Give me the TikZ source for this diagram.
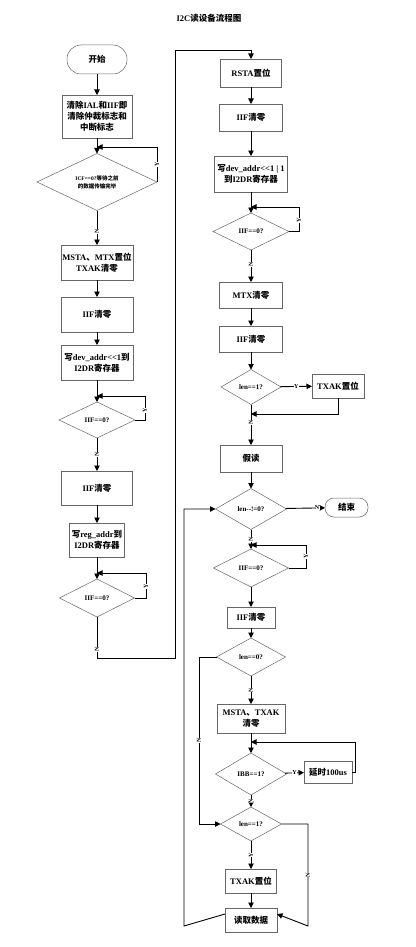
\documentclass[tikz,border=0pt]{standalone}
\usepackage{fontspec}
\setmainfont{Liberation Serif}
\newfontfamily\cjk{Noto Sans CJK SC}
\usetikzlibrary{shapes.geometric,arrows.meta}
\newcommand{\zh}[1]{{\cjk #1}}
\tikzset{
  box/.style={draw=black!60, line width=0.5pt, align=center, font=\fontsize{8.5}{11}\selectfont\bfseries, inner sep=1pt, outer sep=0pt},
  wh/.style 2 args={minimum width=#1, minimum height=#2},
  dia/.style={diamond, draw=black!60, line width=0.5pt, align=center, font=\fontsize{7}{8.5}\selectfont\bfseries, inner sep=0pt, aspect=2, outer sep=0pt},
  arr/.style={-{Triangle[length=5.5pt,width=5.5pt]}, line width=0.9pt},
  ln/.style={line width=0.9pt},
  lbl/.style={font=\fontsize{6}{6}\selectfont\bfseries, fill=white, inner sep=0.3pt},
}
\begin{document}
\begin{tikzpicture}[x=1pt,y=-1pt]
\useasboundingbox (0,0) rectangle (415,947);
\node[font=\fontsize{8.5}{10}\selectfont\bfseries] (title) at (209,18) {I2C\zh{读设备流程图}};
% left column
\node[box, wh={60pt}{29pt}, rounded corners=14pt] (start) at (97,59.5) {\zh{开始}};
\node[box, wh={70pt}{43pt}] (b1) at (97,116.5) {\zh{清除}IAL\zh{和}IIF\zh{即}\\\zh{清除仲裁标志和}\\\zh{中断标志}};
\node[dia, wh={120pt}{57pt}, font=\fontsize{5.5}{8}\selectfont\bfseries] (d1) at (97,182) {ICF==0?\zh{等待之前}\\\zh{的数据传输完毕}};
\node[box, wh={72pt}{35pt}] (b2) at (97,262.5) {MSTA\zh{、}MTX\zh{置位}\\TXAK\zh{清零}};
\node[box, wh={72pt}{35pt}] (b3) at (97,314.5) {IIF\zh{清零}};
\node[box, wh={72pt}{35pt}] (b4) at (97,362.5) {\zh{写}dev\_addr<{}<1\zh{到}\\I2DR\zh{寄存器}};
\node[dia, wh={76pt}{36pt}] (d2) at (97,420) {IIF==0?};
\node[box, wh={71pt}{34pt}] (b5) at (97,488) {IIF\zh{清零}};
\node[box, wh={55pt}{34pt}] (b6) at (97,540) {\zh{写}reg\_addr\zh{到}\\I2DR\zh{寄存器}};
\node[dia, wh={75pt}{38pt}] (d3) at (97,598) {IIF==0?};
% right column
\node[box, wh={61pt}{28pt}] (r1) at (251,73) {RSTA\zh{置位}};
\node[box, wh={63pt}{27pt}] (r2) at (251,117.5) {IIF\zh{清零}};
\node[box, wh={73pt}{36pt}] (r3) at (251,174) {\zh{写}dev\_addr<{}<1 | 1\\\zh{到}I2DR\zh{寄存器}};
\node[dia, wh={76pt}{37pt}] (d4) at (251,231.5) {IIF==0?};
\node[box, wh={63pt}{26pt}] (r4) at (251,295) {MTX\zh{清零}};
\node[box, wh={63pt}{26pt}] (r5) at (251,339) {IIF\zh{清零}};
\node[dia, wh={60pt}{35pt}] (d5) at (251,387) {len==1?};
\node[box, wh={52pt}{24pt}] (t1) at (338,386) {TXAK\zh{置位}};
\node[box, wh={62pt}{27pt}] (r6) at (251,458.5) {\zh{假读}};
\node[dia, wh={71pt}{41pt}] (d6) at (251,509) {len-{}-!=0?};
\node[box, wh={43pt}{19pt}, rounded corners=9pt] (end) at (346.5,507.5) {\zh{结束}};
\node[dia, wh={75pt}{38pt}] (d7) at (251,568) {IIF==0?};
\node[box, wh={48pt}{21pt}] (r7) at (251,617.5) {IIF\zh{清零}};
\node[dia, wh={69pt}{38pt}] (d8) at (251,657) {len==0?};
\node[box, wh={68pt}{29pt}] (r8) at (251,718.5) {MSTA\zh{、}TXAK\\\zh{清零}};
\node[dia, wh={71pt}{42pt}] (d9) at (251,774) {IBB==1?};
\node[box, wh={48pt}{22pt}] (t2) at (328,772) {\zh{延时}100us};
\node[dia, wh={61pt}{34pt}] (d10) at (251,824) {len==1?};
\node[box, wh={51pt}{24pt}] (t3) at (251,881) {TXAK\zh{置位}};
\node[box, wh={52pt}{24pt}] (r9) at (251,920) {\zh{读取数据}};
% junction coordinates
\coordinate (j1) at (97,147);
\coordinate (j2) at (97,396);
\coordinate (j3) at (97,573);
\coordinate (k1) at (97,658);
\coordinate (k2) at (175,658);
\coordinate (k3) at (175,50);
\coordinate (k4) at (251,50);
\coordinate (j4) at (251,207);
\coordinate (j5) at (251,414);
\coordinate (j6) at (251,545);
\coordinate (j7) at (251,742);
\coordinate (m1) at (184,926);
\coordinate (m2) at (184,509);
% left connectors
\draw[arr] (start) -- (b1);
\draw[arr] (b1) -- (d1);
\draw[arr] (d1.east) -- (d1.east |- j1) node[lbl, midway, rotate=90] {Y} -- (j1);
\draw[arr] (d1) -- node[lbl, pos=0.6, rotate=90] {N} (b2);
\draw[arr] (b2) -- (b3);
\draw[arr] (b3) -- (b4);
\draw[arr] (b4) -- (d2);
\draw[arr] (d2.east) -- (145,420) -- node[lbl, pos=0.4, rotate=90] {Y} (145,396) -- (j2);
\draw[arr] (d2) -- node[lbl, pos=0.5, rotate=90] {N} (b5);
\draw[arr] (b5) -- (b6);
\draw[arr] (b6) -- (d3);
\draw[arr] (d3.east) -- (146,598) -- node[lbl, pos=0.45, rotate=90] {Y} (146,573) -- (j3);
\draw[arr] (d3.south) -- node[lbl, pos=0.8, rotate=90] {N} (k1) -- (k2) -- (k3) -- (k4) -- (r1);
% right connectors
\draw[arr] (r1) -- (r2);
\draw[arr] (r2) -- (r3);
\draw[arr] (r3) -- (d4);
\draw[arr] (d4.east) -- (299,231.5) -- node[lbl, pos=0.45, rotate=90] {Y} (299,207) -- (j4);
\draw[arr] (d4) -- node[lbl, pos=0.45, rotate=90] {N} (r4);
\draw[arr] (r4) -- (r5);
\draw[arr] (r5) -- (d5);
\draw[arr] (d5) -- node[lbl, pos=0.5] {Y} (t1);
\draw[arr] (t1.south) |- (j5);
\draw[arr] (d5) -- node[lbl, pos=0.45, rotate=90] {N} (r6);
\draw[arr] (r6) -- (d6);
\draw[arr] (d6) -- node[lbl, pos=0.8] {N} (end);
\draw[arr] (d6) -- node[lbl, pos=0.5, rotate=90] {N} (d7);
\draw[arr] (d7.east) -- (306,568) -- node[lbl, pos=0.5, rotate=90] {Y} (306,545) -- (j6);
\draw[arr] (d7) -- (r7);
\draw[arr] (r7) -- (d8);
\draw[arr] (d8.west) -- (199,657) -- node[lbl, pos=0.5, rotate=90] {N} (199,824) -- (d10.west);
\draw[arr] (d8) -- node[lbl, pos=0.5, rotate=90] {N} (r8);
\draw[arr] (r8) -- (d9);
\draw[arr] (d9) -- node[lbl, pos=0.5] {Y} (t2);
\draw[arr] (t2.east) -- ++(3,0) |- (j7);
\draw[arr] (d9) -- node[lbl, pos=0.5, rotate=90] {N} (d10);
\draw[arr] (d10) -- node[lbl, pos=0.5, rotate=90] {Y} (t3);
\draw[arr] (d10.east) -- (308,824) -- node[lbl, pos=0.5, rotate=90] {N} (308,926) -- ([yshift=6pt]r9.east);
\draw[arr] (t3) -- (r9);
\draw[arr] ([yshift=6pt]r9.west) -- (m1) -- (m2) -- (d6.west);
\end{tikzpicture}
\end{document}
